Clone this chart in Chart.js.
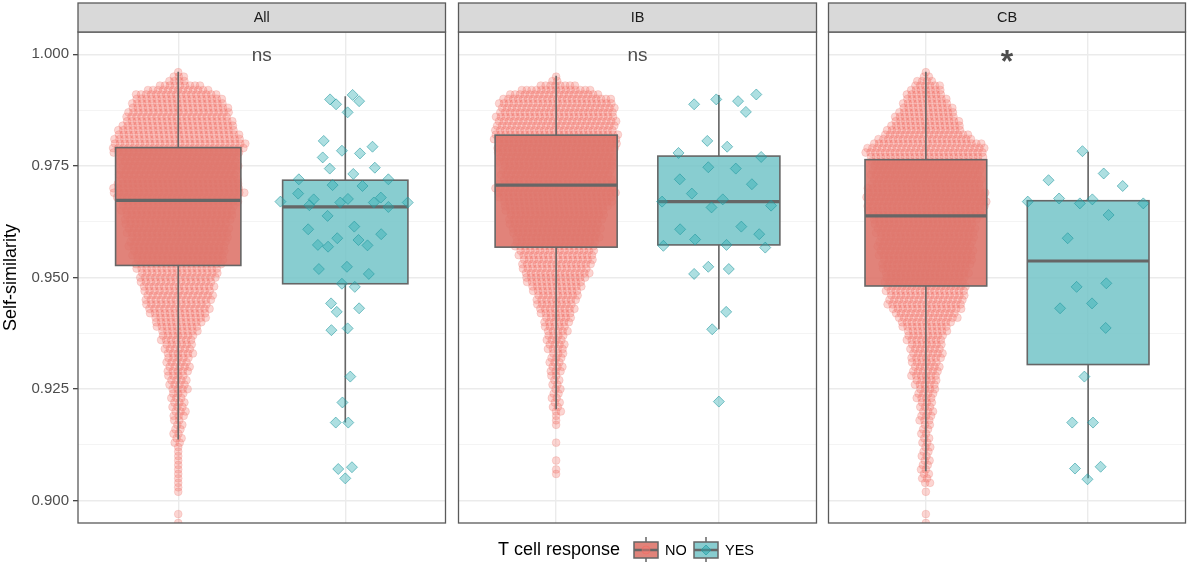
<!DOCTYPE html>
<html><head><meta charset="utf-8">
<script src="https://cdn.jsdelivr.net/npm/chart.js@4.4.1/dist/chart.umd.min.js"></script>
<style>
html,body{margin:0;padding:0;background:#fff;}
#wrap{position:relative;width:1192px;height:566px;overflow:hidden;background:#fff;}
canvas{position:absolute;top:0;}
</style></head><body>
<div id="wrap">
<canvas id="c0" width="452" height="566" style="left:0px;width:452px;height:566px"></canvas>
<canvas id="c1" width="371" height="566" style="left:452px;width:371px;height:566px"></canvas>
<canvas id="c2" width="370" height="566" style="left:822px;width:370px;height:566px"></canvas>
</div>
<script>
// ---------- data ----------
const panels = ['All', 'IB', 'CB'];
const groups = ['NO', 'YES'];
const signifLabels = ['ns', 'ns', '*'];
const yMajorTicks = [0.900, 0.925, 0.950, 0.975, 1.000];
const yTickLabels = ['0.900', '0.925', '0.950', '0.975', '1.000'];
const yMinorTicks = [0.9125, 0.9375, 0.9625, 0.9875];

// box statistics: [lower whisker, Q1, median, Q3, upper whisker]
const statsNoAll  = [0.9137, 0.9527, 0.9673, 0.9791, 0.9961];
const statsYesAll = [0.9175, 0.9486, 0.9658, 0.9718, 0.9906];
const statsNoIB   = [0.9205, 0.9568, 0.9707, 0.9819, 0.9952];
const statsYesIB  = [0.9384, 0.9573, 0.9670, 0.9772, 0.9909];
const statsNoCB   = [0.9066, 0.9481, 0.9638, 0.9764, 0.9961];
const statsYesCB  = [0.9050, 0.9305, 0.9537, 0.9672, 0.9782];

// beeswarm of the NO group: self-similarity level and number of points at that level
const swarmLevels = [0.996,0.995,0.994,0.993,0.992,0.991,0.990,0.989,0.988,0.987,0.986,0.985,0.984,0.983,0.982,0.981,0.980,
 0.979,0.978,0.977,0.976,0.975,0.974,0.973,0.972,0.971,0.970,0.969,0.968,0.967,0.966,0.965,0.964,0.963,0.962,0.961,0.960,
 0.959,0.958,0.957,0.956,0.955,0.954,0.953,0.952,0.951,0.950,0.949,0.948,0.947,0.946,0.945,0.944,0.943,0.942,0.941,0.940,
 0.939,0.938,0.937,0.936,0.935,0.934,0.933,0.932,0.931,0.930,0.929,0.928,0.927,0.926,0.925,0.924,0.923,0.922,0.921,0.920,
 0.919,0.918,0.917,0.916,0.915,0.914,0.913,0.912,0.911,0.910,0.909,0.908,0.907,0.906,0.905,0.904,0.903,0.902,0.901,0.900,
 0.899,0.898,0.897,0.896,0.895];
const noCountsAll = [1,3,4,9,13,17,18,19,20,21,21,22,23,24,25,26,27,
 27,26,24,24,24,24,24,24,25,26,27,25,24,23,23,22,22,21,21,21,20,20,20,19,19,18,18,
 17,16,16,15,15,14,14,14,13,13,12,11,10,9,8,7,7,6,6,6,5,5,5,5,4,4,4,4,3,3,3,3,3,3,
 2,2,2,2,2,2,1,1,1,1,1,1,1,1,1,1,1,0,0,0,0,1,0,1];
const noCountsIB = [0,1,2,8,15,19,23,24,24,24,25,25,25,25,26,26,25,
 25,24,24,24,23,23,23,23,24,25,25,24,23,22,21,20,20,19,19,18,18,17,17,
 16,16,15,15,14,14,13,12,11,10,9,9,8,8,7,6,6,5,5,4,4,4,4,3,3,3,3,3,2,2,
 2,2,2,2,2,2,2,1,1,1,0,0,0,1,0,0,0,1,0,1,1,0,0,0,0,0,0,0,0,0,0,0];
const noCountsCB = [1,2,4,6,7,8,9,10,11,12,13,14,15,16,18,20,23,
 25,25,24,23,23,23,23,23,23,24,25,25,25,25,24,23,22,21,21,21,20,20,20,20,20,19,19,
 18,18,17,17,17,17,16,16,16,15,13,13,11,10,9,8,8,7,7,7,7,6,6,6,6,5,5,4,4,4,
 3,3,3,3,3,2,2,2,2,2,2,2,2,2,2,2,2,2,2,0,1,0,0,0,0,1,0,1];

// YES group points: self-similarity value and horizontal jitter
const yesValuesAll = [0.9899,0.9888,0.9909,0.9895,0.9870,0.9806,0.9793,0.9784,0.9778,0.9769,0.9744,0.9746,0.9732,
 0.9720,0.9720,0.9707,0.9705,0.9688,0.9675,0.9676,0.9679,0.9670,0.9662,0.9668,0.9668,0.9658,0.9668,0.9638,
 0.9608,0.9614,0.9597,0.9588,0.9584,0.9573,0.9569,0.9572,0.9519,0.9524,0.9508,0.9486,0.9479,0.9442,0.9423,
 0.9431,0.9382,0.9386,0.9278,0.9220,0.9175,0.9175,0.9071,0.9075,0.9050];
const yesJitterAll = [-0.091,-0.055,0.044,0.083,0.014,-0.129,0.163,-0.020,0.088,-0.135,-0.093,0.177,0.048,
 -0.278,0.258,-0.076,0.103,-0.282,-0.189,0.016,0.213,-0.388,-0.215,-0.030,0.171,0.258,0.374,-0.106,
 -0.222,0.054,0.215,-0.048,0.079,-0.164,-0.103,0.133,-0.158,0.010,0.141,-0.020,0.057,-0.085,-0.051,
 0.083,-0.083,0.014,0.030,-0.017,-0.057,0.018,-0.042,0.040,0.000];
const yesValuesIB = [0.9888,0.9899,0.9895,0.9910,0.9871,0.9806,0.9793,0.9779,0.9770,0.9747,0.9744,0.9720,0.9709,
 0.9688,0.9670,0.9675,0.9657,0.9661,0.9608,0.9614,0.9585,0.9597,0.9571,0.9573,0.9567,0.9524,0.9519,0.9508,
 0.9423,0.9384,0.9222];
const yesJitterIB = [-0.152,-0.016,0.118,0.230,0.166,-0.071,0.051,-0.248,0.260,-0.065,0.104,-0.240,0.203,
 -0.166,-0.349,0.024,-0.045,0.321,-0.238,0.138,-0.146,0.248,-0.341,0.047,0.285,-0.065,0.061,-0.152,
 0.045,-0.041,0.000];
const yesValuesCB = [0.9783,0.9718,0.9733,0.9705,0.9670,0.9677,0.9666,0.9675,0.9666,0.9640,0.9588,0.9479,0.9487,
 0.9431,0.9442,0.9387,0.9278,0.9175,0.9175,0.9072,0.9076,0.9048];
const yesJitterCB = [-0.035,-0.244,0.096,0.213,-0.372,-0.179,-0.051,0.026,0.340,0.126,-0.126,-0.071,0.112,
 -0.173,0.024,0.108,-0.023,-0.098,0.030,-0.081,0.077,-0.004];

// ---------- styling ----------
const FONT = '"Liberation Sans", Arial, Helvetica, sans-serif';
const NO_BOX = 'rgba(222,117,108,0.9)';
const YES_BOX = 'rgba(115,196,200,0.85)';
const NO_PT_FILL = 'rgba(244,116,107,0.3)';
const NO_PT_LINE = 'rgba(232,108,100,0.26)';
const YES_PT_FILL = 'rgba(40,170,176,0.38)';
const YES_PT_LINE = 'rgba(30,150,156,0.55)';
const LINE_GREY = '#666666';
const BOX_W = 0.75;
const SWARM_SP = 0.03;

const panelData = [
  {no: noCountsAll, yv: yesValuesAll, yj: yesJitterAll, sNo: statsNoAll, sYes: statsYesAll},
  {no: noCountsIB,  yv: yesValuesIB,  yj: yesJitterIB,  sNo: statsNoIB,  sYes: statsYesIB},
  {no: noCountsCB,  yv: yesValuesCB,  yj: yesJitterCB,  sNo: statsNoCB,  sYes: statsYesCB}
];

function isMajor(v) { return yMajorTicks.some(t => Math.abs(t - v) < 1e-6); }

function drawBox(chart, xc, st, fill) {
  const xs = chart.scales.x, ys = chart.scales.y, ctx = chart.ctx;
  const xl = xs.getPixelForValue(xc - BOX_W / 2), xr = xs.getPixelForValue(xc + BOX_W / 2);
  const xm = xs.getPixelForValue(xc);
  const p = st.map(v => ys.getPixelForValue(v));
  ctx.save();
  ctx.strokeStyle = LINE_GREY;
  ctx.lineWidth = 1.6;
  ctx.beginPath();
  ctx.moveTo(xm, p[3]); ctx.lineTo(xm, p[4]);
  ctx.moveTo(xm, p[1]); ctx.lineTo(xm, p[0]);
  ctx.stroke();
  ctx.fillStyle = fill;
  ctx.fillRect(xl, p[3], xr - xl, p[1] - p[3]);
  ctx.strokeRect(xl, p[3], xr - xl, p[1] - p[3]);
  ctx.lineWidth = 3.2;
  ctx.beginPath(); ctx.moveTo(xl, p[2]); ctx.lineTo(xr, p[2]); ctx.stroke();
  ctx.restore();
}

function drawLegend(chart) {
  const ctx = chart.ctx;
  const off = chart.canvas.offsetLeft;
  const cy = 550;
  ctx.save();
  ctx.textBaseline = 'middle';
  ctx.fillStyle = '#000';
  ctx.font = '18px ' + FONT;
  ctx.fillText('T cell response', 498 - off, cy);
  const keys = [{x: 634, fill: NO_BOX, label: groups[0], pt: 'circle'}, {x: 694, fill: YES_BOX, label: groups[1], pt: 'diamond'}];
  keys.forEach(k => {
    const x0 = k.x - off, xm = x0 + 12;
    ctx.strokeStyle = LINE_GREY; ctx.lineWidth = 1.5;
    ctx.beginPath(); ctx.moveTo(xm, 537); ctx.lineTo(xm, 542); ctx.moveTo(xm, 558); ctx.lineTo(xm, 562); ctx.stroke();
    ctx.fillStyle = k.fill; ctx.fillRect(x0, 542, 24, 16); ctx.strokeRect(x0, 542, 24, 16);
    ctx.lineWidth = 2.5; ctx.beginPath(); ctx.moveTo(x0, cy); ctx.lineTo(x0 + 24, cy); ctx.stroke();
    ctx.lineWidth = 1;
    if (k.pt === 'circle') {
      ctx.fillStyle = 'rgba(248,118,109,0.45)'; ctx.strokeStyle = 'rgba(238,108,100,0.5)';
      ctx.beginPath(); ctx.arc(xm, cy, 4, 0, Math.PI * 2); ctx.fill(); ctx.stroke();
    } else {
      ctx.fillStyle = 'rgba(40,170,176,0.5)'; ctx.strokeStyle = 'rgba(30,150,156,0.6)';
      ctx.beginPath(); ctx.moveTo(xm, cy - 5); ctx.lineTo(xm + 5, cy); ctx.lineTo(xm, cy + 5); ctx.lineTo(xm - 5, cy); ctx.closePath(); ctx.fill(); ctx.stroke();
    }
    ctx.fillStyle = '#000'; ctx.font = '14.5px ' + FONT;
    ctx.fillText(k.label, x0 + 31, cy + 0.5);
  });
  ctx.restore();
}

const facetPlugin = {
  id: 'facet',
  afterDatasetDraw(chart, args) {
    if (args.index === 1) {
      const d = chart.options.plugins.facet;
      drawBox(chart, 1, d.sNo, NO_BOX);
      drawBox(chart, 2, d.sYes, YES_BOX);
    }
  },
  afterDraw(chart) {
    const d = chart.options.plugins.facet;
    const ctx = chart.ctx, a = chart.chartArea;
    const xs = chart.scales.x, ys = chart.scales.y;
    ctx.save();
    ctx.fillStyle = '#4D4D4D';
    ctx.textAlign = 'center';
    ctx.textBaseline = 'alphabetic';
    if (d.sig === '*') {
      ctx.font = 'bold 32px ' + FONT;
      ctx.fillText(d.sig, xs.getPixelForValue(1.5), ys.getPixelForValue(1.0) + 18);
    } else {
      ctx.font = '19px ' + FONT;
      ctx.fillText(d.sig, xs.getPixelForValue(1.5), ys.getPixelForValue(1.0) + 7);
    }
    ctx.strokeStyle = '#5A5A5A';
    ctx.lineWidth = 1.3;
    ctx.strokeRect(a.left, a.top, a.right - a.left, a.bottom - a.top);
    ctx.fillStyle = '#D9D9D9';
    ctx.fillRect(a.left, 3, a.right - a.left, a.top - 3);
    ctx.strokeRect(a.left, 3, a.right - a.left, a.top - 3);
    ctx.fillStyle = '#1A1A1A';
    ctx.font = '14.5px ' + FONT;
    ctx.textBaseline = 'middle';
    ctx.fillText(d.title, (a.left + a.right) / 2, (3 + a.top) / 2 + 0.5);
    ctx.restore();
    if (d.legend) drawLegend(chart);
  }
};

function makeChart(i, id, padL, padR, showY) {
  const pd = panelData[i];
  const noPts = [];
  swarmLevels.forEach((lv, r) => {
    const n = pd.no[r];
    // beeswarm layout: each row is centred, with a row-dependent stagger so rows do not stack in columns
    const shift = n > 1 ? (((r * 0.618) % 1) - 0.5) * SWARM_SP : 0;
    for (let k = 0; k < n; k++) noPts.push({x: 1 + (k - (n - 1) / 2) * SWARM_SP + shift, y: lv});
  });
  const yesPts = pd.yv.map((v, k) => ({x: 2 + pd.yj[k], y: v}));
  return new Chart(document.getElementById(id), {
    type: 'scatter',
    data: {
      datasets: [
        {label: groups[1], data: yesPts, order: 1, pointStyle: 'rectRot', pointRadius: 5.5,
         backgroundColor: YES_PT_FILL, borderColor: YES_PT_LINE, borderWidth: 1},
        {label: groups[0], data: noPts, order: 2, pointStyle: 'circle', pointRadius: 3.9,
         backgroundColor: NO_PT_FILL, borderColor: NO_PT_LINE, borderWidth: 0.8}
      ]
    },
    options: {
      responsive: false, animation: false, events: [],
      layout: {padding: {left: padL, right: padR, top: 32, bottom: 43}},
      plugins: {
        legend: {display: false}, tooltip: {enabled: false},
        facet: {title: panels[i], sig: signifLabels[i], sNo: pd.sNo, sYes: pd.sYes, legend: i === 1}
      },
      scales: {
        x: {
          type: 'linear', min: 0.4, max: 2.6,
          afterBuildTicks: s => { s.ticks = [{value: 1}, {value: 2}]; },
          afterFit: s => { s.height = 0; },
          ticks: {display: false},
          grid: {color: '#EBEBEB', lineWidth: 1.4, drawTicks: false},
          border: {display: false}
        },
        y: {
          type: 'linear', min: 0.895, max: 1.005,
          afterBuildTicks: s => { s.ticks = yMajorTicks.concat(yMinorTicks).sort((a, b) => a - b).map(v => ({value: v})); },
          afterFit: s => { s.width = showY ? 78 : 0; },
          ticks: {
            display: showY, padding: 4, color: '#4D4D4D', font: {family: FONT, size: 15},
            callback: v => { const j = yMajorTicks.findIndex(t => Math.abs(t - v) < 1e-6); return j >= 0 ? yTickLabels[j] : ''; }
          },
          grid: {
            color: c => isMajor(c.tick.value) ? '#EBEBEB' : '#F3F3F3',
            lineWidth: c => isMajor(c.tick.value) ? 1.4 : 0.9,
            drawTicks: showY, tickLength: 5,
            tickColor: c => isMajor(c.tick.value) ? '#333333' : 'rgba(0,0,0,0)',
            tickWidth: 1.2
          },
          border: {display: false},
          title: {display: showY, text: 'Self-similarity', color: '#000', font: {family: FONT, size: 18}, padding: {top: 0, bottom: 0}}
        }
      }
    },
    plugins: [facetPlugin]
  });
}

makeChart(0, 'c0', 0, 5, true);
makeChart(1, 'c1', 6, 5, false);
makeChart(2, 'c2', 6, 5, false);
</script>
</body></html>
